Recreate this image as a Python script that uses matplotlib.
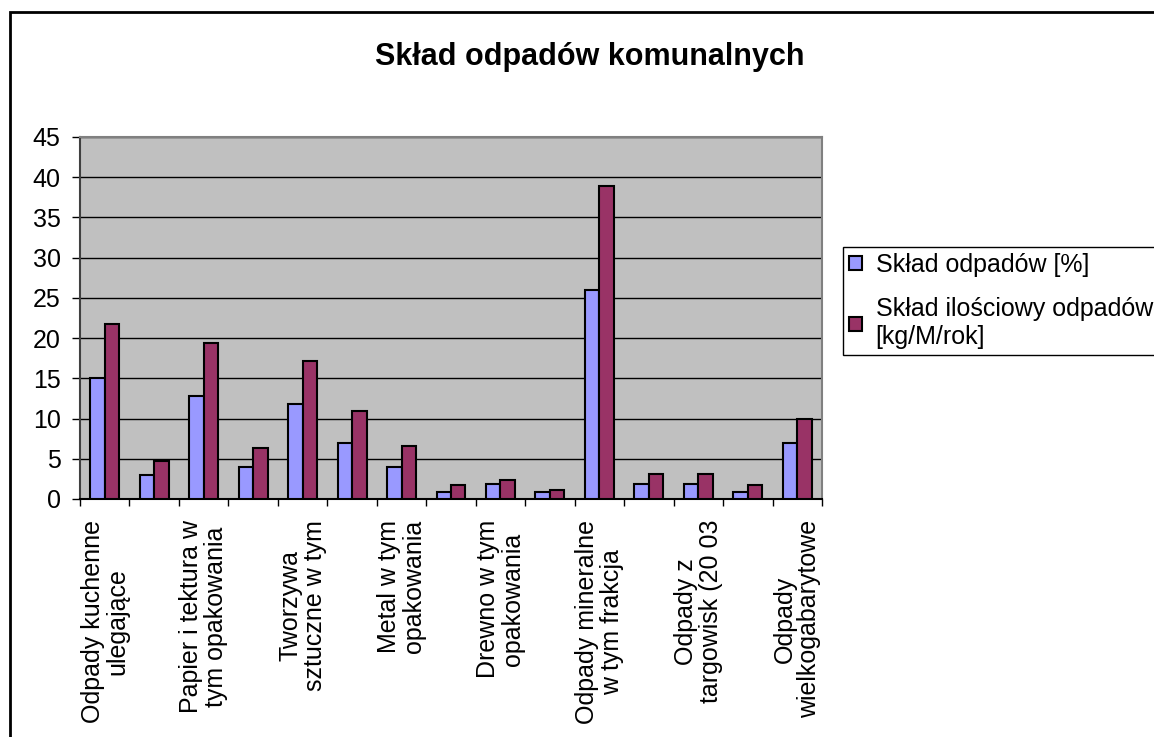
import numpy as np
import matplotlib
matplotlib.use("Agg")
import matplotlib.pyplot as plt
from matplotlib.patches import Rectangle

plt.rcParams['font.family'] = ['Liberation Sans', 'DejaVu Sans']

# data (15 categories, only every second one is labelled)
labels = ['Odpady kuchenne\nulegające', '',
          'Papier i tektura w\ntym opakowania', '',
          'Tworzywa\nsztuczne w tym', '',
          'Metal w tym\nopakowania', '',
          'Drewno w tym\nopakowania', '',
          'Odpady mineralne\nw tym frakcja', '',
          'Odpady z\ntargowisk (20 03', '',
          'Odpady\nwielkogabarytowe']
sklad_pct = [15, 3, 12.85, 4, 11.85, 6.9, 4, 0.9, 1.85, 0.9, 26, 1.85, 1.85, 0.9, 6.9]
sklad_kg = [21.7, 4.7, 19.35, 6.4, 17.2, 10.9, 6.6, 1.8, 2.3, 1.15, 38.95, 3.05, 3.05, 1.8, 10]
series_names = ['Skład odpadów [%]', 'Skład ilościowy odpadów\n[kg/M/rok]']

W, H = 1154, 737
fig = plt.figure(figsize=(W / 100, H / 100), dpi=100)
ax = fig.add_axes([80 / W, 1 - 499 / H, (822 - 80) / W, (499 - 137) / H])
ax.set_facecolor('#C0C0C0')

x = np.arange(len(labels))
bw = 0.293
ax.bar(x - bw / 2, sklad_pct, bw, color='#9999FF', edgecolor='black', lw=1.5,
       label=series_names[0], zorder=3)
ax.bar(x + bw / 2, sklad_kg, bw, color='#993366', edgecolor='black', lw=1.5,
       label=series_names[1], zorder=3)

ax.set_xlim(-0.5, len(labels) - 0.5)
ax.set_ylim(0, 45)
ax.set_yticks(np.arange(0, 46, 5))
ax.yaxis.grid(True, color='black', lw=1, zorder=1)
ax.set_axisbelow(True)

ax.set_xticks(x)
ax.set_xticklabels(labels, rotation=90, fontsize=18, va='top', ha='center',
                   multialignment='center', linespacing=1.02)
ax.set_xticks(np.arange(-0.5, len(labels)), minor=True)
ax.tick_params(axis='x', which='major', length=0, pad=15)
ax.tick_params(axis='x', which='minor', length=5, width=1, color='black', direction='out')
ax.tick_params(axis='y', length=6, width=1, direction='out', labelsize=18, pad=8)

for s in ['top', 'right']:
    ax.spines[s].set_color('#808080')
    ax.spines[s].set_linewidth(1.5)
ax.spines['left'].set_color('#404040')
ax.spines['left'].set_linewidth(1.5)
ax.spines['bottom'].set_color('black')
ax.spines['bottom'].set_linewidth(1.5)

fig.text(589.5 / W, 1 - 57 / H, 'Skład odpadów komunalnych', fontsize=22,
         fontweight='bold', ha='center', va='center')

leg = fig.legend(loc='upper left', bbox_to_anchor=(843 / W, 1 - 247 / H),
                 fontsize=18, frameon=True, fancybox=False, framealpha=1,
                 edgecolor='black', handlelength=0.5, handleheight=0.5,
                 handletextpad=0.55, labelspacing=0.8, borderpad=0.25,
                 borderaxespad=0)
leg.get_frame().set_linewidth(1)

fig.patches.append(Rectangle((10 / W, -0.5), 1.5, 1.5 - 12 / H, transform=fig.transFigure,
                             fill=False, edgecolor='black', lw=2))

fig.savefig('out.png', dpi=100)
